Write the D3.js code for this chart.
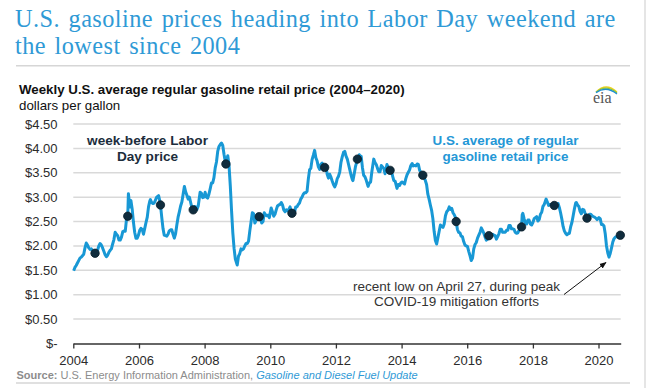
<!DOCTYPE html>
<html>
<head>
<meta charset="utf-8">
<script src="https://cdn.jsdelivr.net/npm/d3@7/dist/d3.min.js"></script>
<style>
  html, body { margin: 0; padding: 0; background: #fff; }
  svg { display: block; }
</style>
</head>
<body>
<svg id="chart" width="651" height="388"></svg>
<script>
// ---- data ----
const weekDates = [
"2004-01-05","2004-01-19","2004-02-02","2004-02-16","2004-03-01","2004-03-15","2004-03-29","2004-04-12","2004-04-26","2004-05-10","2004-05-24","2004-06-07","2004-06-21","2004-07-05","2004-07-19","2004-08-02","2004-08-16","2004-08-30","2004-09-13","2004-09-27","2004-10-11","2004-10-25","2004-11-08","2004-11-22","2004-12-06","2004-12-20",
"2005-01-03","2005-01-17","2005-01-31","2005-02-14","2005-02-28","2005-03-14","2005-03-28","2005-04-11","2005-04-25","2005-05-09","2005-05-23","2005-06-06","2005-06-20","2005-07-04","2005-07-18","2005-08-01","2005-08-15","2005-08-29","2005-09-05","2005-09-12","2005-09-26","2005-10-03","2005-10-17","2005-10-31","2005-11-14","2005-11-28","2005-12-12","2005-12-26",
"2006-01-09","2006-01-23","2006-02-06","2006-02-20","2006-03-06","2006-03-20","2006-04-03","2006-04-17","2006-05-01","2006-05-08","2006-05-22","2006-06-05","2006-06-19","2006-07-03","2006-07-17","2006-08-07","2006-08-21","2006-08-28","2006-09-11","2006-09-25","2006-10-09","2006-10-23","2006-11-06","2006-11-20","2006-12-04","2006-12-18",
"2007-01-01","2007-01-15","2007-01-29","2007-02-12","2007-02-26","2007-03-12","2007-03-26","2007-04-09","2007-04-23","2007-05-07","2007-05-21","2007-06-04","2007-06-18","2007-07-02","2007-07-16","2007-07-30","2007-08-13","2007-08-27","2007-09-10","2007-09-24","2007-10-08","2007-10-22","2007-11-12","2007-11-26","2007-12-10","2007-12-24",
"2008-01-07","2008-01-21","2008-02-04","2008-02-18","2008-03-03","2008-03-17","2008-03-31","2008-04-14","2008-04-28","2008-05-12","2008-05-26","2008-06-09","2008-06-23","2008-07-07","2008-07-21","2008-08-04","2008-08-18","2008-08-25","2008-09-15","2008-09-29","2008-10-13","2008-10-27","2008-11-10","2008-11-24","2008-12-08","2008-12-29",
"2009-01-12","2009-01-26","2009-02-09","2009-02-23","2009-03-09","2009-03-23","2009-04-06","2009-04-20","2009-05-04","2009-05-18","2009-06-01","2009-06-15","2009-06-29","2009-07-13","2009-07-27","2009-08-10","2009-08-24","2009-08-31","2009-09-14","2009-09-28","2009-10-12","2009-10-26","2009-11-09","2009-11-23","2009-12-07","2009-12-21",
"2010-01-11","2010-01-25","2010-02-08","2010-02-22","2010-03-08","2010-03-22","2010-04-05","2010-04-19","2010-05-03","2010-05-17","2010-05-31","2010-06-14","2010-06-28","2010-07-12","2010-07-26","2010-08-09","2010-08-23","2010-08-30","2010-09-13","2010-09-27","2010-10-11","2010-10-25","2010-11-08","2010-11-22","2010-12-06","2010-12-20",
"2011-01-03","2011-01-17","2011-01-31","2011-02-14","2011-02-28","2011-03-14","2011-03-28","2011-04-11","2011-04-25","2011-05-09","2011-05-23","2011-06-06","2011-06-20","2011-07-04","2011-07-18","2011-08-01","2011-08-15","2011-08-29","2011-09-12","2011-09-26","2011-10-10","2011-10-24","2011-11-07","2011-11-21","2011-12-05","2011-12-19",
"2012-01-02","2012-01-16","2012-01-30","2012-02-13","2012-02-27","2012-03-12","2012-03-26","2012-04-09","2012-04-23","2012-05-07","2012-05-21","2012-06-04","2012-06-18","2012-07-02","2012-07-09","2012-07-23","2012-08-06","2012-08-20","2012-08-27","2012-09-17","2012-10-01","2012-10-08","2012-10-22","2012-11-05","2012-11-19","2012-12-03","2012-12-24",
"2013-01-07","2013-01-21","2013-02-04","2013-02-25","2013-03-11","2013-03-25","2013-04-08","2013-04-22","2013-05-06","2013-05-20","2013-06-03","2013-06-17","2013-07-01","2013-07-22","2013-08-05","2013-08-19","2013-08-26","2013-09-09","2013-09-23","2013-10-07","2013-10-21","2013-11-11","2013-11-25","2013-12-09","2013-12-23",
"2014-01-06","2014-01-20","2014-02-03","2014-02-17","2014-03-03","2014-03-17","2014-03-31","2014-04-14","2014-04-28","2014-05-12","2014-05-26","2014-06-09","2014-06-23","2014-07-07","2014-07-21","2014-08-04","2014-08-18","2014-08-25","2014-09-08","2014-09-22","2014-10-06","2014-10-20","2014-11-03","2014-11-17","2014-12-01","2014-12-15","2014-12-29",
"2015-01-12","2015-01-26","2015-02-09","2015-02-23","2015-03-09","2015-03-23","2015-04-06","2015-04-20","2015-05-04","2015-05-18","2015-06-01","2015-06-15","2015-06-29","2015-07-13","2015-07-27","2015-08-10","2015-08-24","2015-08-31","2015-09-14","2015-09-28","2015-10-12","2015-10-26","2015-11-09","2015-11-23","2015-12-07","2015-12-21",
"2016-01-04","2016-01-18","2016-02-01","2016-02-15","2016-02-29","2016-03-14","2016-03-28","2016-04-11","2016-04-25","2016-05-09","2016-05-23","2016-06-06","2016-06-20","2016-07-04","2016-07-18","2016-08-01","2016-08-15","2016-08-29","2016-09-12","2016-09-26","2016-10-10","2016-10-24","2016-11-07","2016-11-21","2016-12-05","2016-12-19",
"2017-01-02","2017-01-16","2017-01-30","2017-02-13","2017-02-27","2017-03-13","2017-03-27","2017-04-10","2017-04-24","2017-05-08","2017-05-22","2017-06-05","2017-06-19","2017-07-03","2017-07-17","2017-07-31","2017-08-14","2017-08-28","2017-09-04","2017-09-11","2017-09-25","2017-10-09","2017-10-23","2017-11-06","2017-11-20","2017-12-04","2017-12-18",
"2018-01-01","2018-01-15","2018-01-29","2018-02-12","2018-02-26","2018-03-12","2018-03-26","2018-04-09","2018-04-23","2018-05-07","2018-05-28","2018-06-11","2018-06-25","2018-07-09","2018-07-23","2018-08-06","2018-08-20","2018-08-27","2018-09-10","2018-09-24","2018-10-08","2018-10-22","2018-11-05","2018-11-19","2018-12-03","2018-12-17","2018-12-31",
"2019-01-14","2019-01-28","2019-02-11","2019-02-25","2019-03-11","2019-03-25","2019-04-08","2019-04-22","2019-04-29","2019-05-13","2019-05-27","2019-06-10","2019-06-24","2019-07-08","2019-07-22","2019-08-05","2019-08-19","2019-08-26","2019-09-09","2019-09-23","2019-10-07","2019-10-21","2019-11-04","2019-11-18","2019-12-02","2019-12-16",
"2020-01-06","2020-01-20","2020-02-03","2020-02-17","2020-03-02","2020-03-16","2020-03-30","2020-04-13","2020-04-27","2020-05-11","2020-05-25","2020-06-08","2020-06-22","2020-07-06","2020-07-20","2020-08-03","2020-08-17","2020-08-31"
];
const weekPrices = [
1.49,1.56,1.60,1.65,1.70,1.75,1.77,1.80,1.83,1.96,2.06,2.02,1.96,1.93,1.94,1.90,1.87,1.85,1.86,1.91,2.00,2.05,2.02,1.96,1.89,1.82,
1.78,1.81,1.87,1.91,1.94,2.04,2.13,2.28,2.24,2.21,2.12,2.12,2.18,2.29,2.31,2.30,2.55,2.61,3.07,2.96,2.80,2.93,2.76,2.49,2.28,2.16,2.16,2.22,
2.32,2.36,2.34,2.24,2.36,2.48,2.59,2.80,2.92,2.95,2.89,2.87,2.88,2.94,3.00,3.03,2.92,2.84,2.59,2.36,2.22,2.21,2.20,2.24,2.31,2.33,
2.33,2.24,2.16,2.25,2.43,2.59,2.70,2.82,2.90,3.06,3.22,3.11,3.04,2.96,3.00,2.89,2.78,2.74,2.81,2.80,2.75,2.82,3.10,3.08,2.99,3.00,
3.10,3.00,2.98,3.06,3.17,3.29,3.29,3.40,3.60,3.72,3.94,4.04,4.08,4.11,4.06,3.88,3.73,3.68,3.85,3.64,3.23,2.72,2.27,1.95,1.73,1.61,
1.79,1.84,1.94,1.92,1.94,2.00,2.05,2.05,2.10,2.31,2.49,2.68,2.66,2.47,2.52,2.65,2.62,2.60,2.57,2.47,2.50,2.68,2.64,2.62,2.63,2.58,
2.78,2.70,2.61,2.65,2.74,2.82,2.84,2.85,2.89,2.84,2.74,2.70,2.74,2.72,2.75,2.80,2.70,2.67,2.70,2.69,2.80,2.80,2.85,2.88,2.96,3.00,
3.06,3.09,3.09,3.12,3.37,3.56,3.59,3.77,3.86,3.96,3.81,3.74,3.62,3.57,3.67,3.70,3.59,3.61,3.65,3.47,3.39,3.47,3.41,3.33,3.26,3.21,
3.27,3.38,3.43,3.52,3.72,3.83,3.92,3.94,3.84,3.78,3.67,3.56,3.45,3.36,3.34,3.48,3.63,3.72,3.78,3.87,3.78,3.84,3.61,3.45,3.42,3.35,3.22,
3.29,3.31,3.52,3.78,3.71,3.67,3.59,3.52,3.52,3.65,3.62,3.59,3.48,3.67,3.61,3.54,3.55,3.57,3.43,3.34,3.33,3.18,3.26,3.24,3.29,
3.31,3.29,3.27,3.38,3.46,3.51,3.56,3.65,3.69,3.64,3.65,3.64,3.68,3.67,3.55,3.51,3.44,3.45,3.42,3.34,3.26,3.06,2.96,2.84,2.73,2.56,2.30,
2.11,2.04,2.17,2.30,2.43,2.40,2.38,2.45,2.62,2.70,2.73,2.80,2.75,2.77,2.68,2.64,2.58,2.50,2.34,2.28,2.27,2.20,2.19,2.09,2.02,2.00,
1.99,1.89,1.80,1.70,1.75,1.94,2.03,2.07,2.16,2.22,2.28,2.37,2.32,2.26,2.18,2.12,2.14,2.21,2.18,2.21,2.24,2.22,2.21,2.14,2.19,2.25,
2.34,2.34,2.28,2.28,2.28,2.32,2.32,2.42,2.42,2.35,2.35,2.34,2.28,2.26,2.27,2.32,2.37,2.39,2.64,2.67,2.56,2.47,2.45,2.53,2.53,2.45,2.43,
2.48,2.56,2.58,2.60,2.51,2.54,2.65,2.69,2.81,2.85,2.96,2.90,2.83,2.85,2.85,2.85,2.83,2.83,2.84,2.84,2.87,2.79,2.68,2.55,2.40,2.31,2.26,
2.23,2.25,2.26,2.39,2.48,2.62,2.76,2.88,2.89,2.84,2.81,2.71,2.66,2.75,2.74,2.67,2.61,2.57,2.56,2.65,2.65,2.62,2.60,2.59,2.57,2.54,
2.58,2.56,2.44,2.44,2.41,2.25,2.00,1.86,1.77,1.85,1.96,2.08,2.15,2.18,2.19,2.18,2.17,2.22
];
const laborDates = ["2004-08-30","2005-08-29","2006-08-28","2007-08-27","2008-08-25","2009-08-31","2010-08-30","2011-08-29","2012-08-27","2013-08-26","2014-08-25","2015-08-31","2016-08-29","2017-08-28","2018-08-27","2019-08-26","2020-08-31"];
const laborPrices = [1.85,2.61,2.84,2.74,3.68,2.60,2.67,3.61,3.78,3.55,3.45,2.50,2.21,2.39,2.83,2.57,2.22];
const yTicks = [0,0.5,1,1.5,2,2.5,3,3.5,4,4.5];
const xTickYears = [2004,2006,2008,2010,2012,2014,2016,2018,2020];

// ---- drawing ----
const parse = d3.timeParse("%Y-%m-%d");
const series = weekDates.map((d,i) => ({date: parse(d), value: weekPrices[i]}));
const dots = laborDates.map((d,i) => ({date: parse(d), value: laborPrices[i]}));

const svg = d3.select("#chart");
const sans = "'Liberation Sans', Arial, sans-serif";

const x = d3.scaleTime().domain([new Date(2004,0,1), new Date(2020,8,4)]).range([73.3, 620.7]);
const y = d3.scaleLinear().domain([0, 4.5]).range([343.5, 124]);

// frame lines
svg.append("line").attr("x1",645).attr("x2",645).attr("y1",0).attr("y2",388).attr("stroke","#dcdcdc").attr("stroke-width",1.5);
svg.append("line").attr("x1",16).attr("x2",630).attr("y1",65.7).attr("y2",65.7).attr("stroke","#d6d6d6").attr("stroke-width",1.5);
svg.append("line").attr("x1",16).attr("x2",630).attr("y1",383).attr("y2",383).attr("stroke","#d6d6d6").attr("stroke-width",1.5);

// title
const title = svg.append("text").attr("font-family","'Liberation Serif','Times New Roman',serif")
  .attr("font-size",24.3).attr("letter-spacing",0.45).attr("word-spacing",2).attr("fill","#2f9ad6");
title.append("tspan").attr("x",15).attr("y",26.8).text("U.S. gasoline prices heading into Labor Day weekend are");
title.append("tspan").attr("x",15).attr("y",53.8).text("the lowest since 2004");

svg.append("text").attr("x",19).attr("y",94).attr("font-family",sans).attr("font-size",13.3).attr("font-weight","bold").attr("fill","#111")
  .text("Weekly U.S. average regular gasoline retail price (2004\u20132020)");
svg.append("text").attr("x",19).attr("y",110).attr("font-family",sans).attr("font-size",13.3).attr("fill","#111")
  .text("dollars per gallon");

// eia logo
const logo = svg.append("g");
[["#f2d21b",0],["#8cc63f",1.6],["#1f8fd0",3.2]].forEach(([c,o]) => {
  logo.append("path").attr("d",`M ${596} ${92+o*0.2} Q ${606} ${82+o} ${617} ${92+o*0.6}`)
    .attr("fill","none").attr("stroke",c).attr("stroke-width",1.3);
});
logo.append("text").attr("x",593).attr("y",103).attr("font-family","'Liberation Serif',serif").attr("font-size",16).attr("fill","#555").text("eia");

// gridlines
svg.append("g").selectAll("line").data(yTicks.filter(d => d > 0)).join("line")
  .attr("x1",73.3).attr("x2",620.7).attr("y1",d => y(d)).attr("y2",d => y(d))
  .attr("stroke","#d9d9d9").attr("stroke-width",1.5);

// y labels
svg.append("g").selectAll("text").data(yTicks).join("text")
  .attr("x",57.5).attr("y",d => y(d)+4.5).attr("text-anchor","end")
  .attr("font-family",sans).attr("font-size",13).attr("fill","#2b2b2b")
  .text(d => d === 0 ? "$-" : "$" + d3.format(".2f")(d));

// x axis
const xAxis = d3.axisBottom(x)
  .tickValues(xTickYears.map(yr => new Date(yr,0,1)))
  .tickFormat(d3.timeFormat("%Y"))
  .tickSize(5).tickSizeOuter(0);
const gx = svg.append("g").attr("transform","translate(0,343.5)").call(xAxis);
gx.select(".domain").attr("stroke","#333").attr("stroke-width",1.5);
gx.selectAll(".tick line").attr("stroke","#333").attr("stroke-width",1.3);
gx.selectAll(".tick text").attr("font-family",sans).attr("font-size",13).attr("fill","#2b2b2b").attr("dy","1.05em");

// line
const line = d3.line().x(d => x(d.date)).y(d => y(d.value)).curve(d3.curveLinear);
svg.append("path").datum(series).attr("d",line).attr("fill","none")
  .attr("stroke","#1898d5").attr("stroke-width",3).attr("stroke-linejoin","round");

// dots
svg.append("g").selectAll("circle").data(dots).join("circle")
  .attr("cx",d => x(d.date)).attr("cy",d => y(d.value)).attr("r",4.2)
  .attr("fill","#102c3d").attr("stroke","#0a1e2a").attr("stroke-width",0.8);

// annotations
const a1 = svg.append("text").attr("font-family",sans).attr("font-size",13.6).attr("font-weight","bold").attr("fill","#1c2d3c").attr("text-anchor","middle");
a1.append("tspan").attr("x",147.5).attr("y",145).text("week-before Labor");
a1.append("tspan").attr("x",147.5).attr("y",161).text("Day price");

const a2 = svg.append("text").attr("font-family",sans).attr("font-size",13.4).attr("font-weight","bold").attr("fill","#2497d6").attr("text-anchor","middle");
a2.append("tspan").attr("x",505.5).attr("y",145).text("U.S. average of regular");
a2.append("tspan").attr("x",505.5).attr("y",161).text("gasoline retail price");

const a3 = svg.append("text").attr("font-family",sans).attr("font-size",13.5).attr("fill","#333").attr("text-anchor","middle");
a3.append("tspan").attr("x",456.5).attr("y",291).text("recent low on April 27, during peak");
a3.append("tspan").attr("x",456.5).attr("y",306).text("COVID-19 mitigation efforts");

svg.append("defs").append("marker").attr("id","arr").attr("viewBox","0 0 10 10").attr("refX",9).attr("refY",5)
  .attr("markerWidth",7).attr("markerHeight",7).attr("orient","auto")
  .append("path").attr("d","M0,1 L10,5 L0,9 Z").attr("fill","#111");
svg.append("line").attr("x1",564).attr("y1",294.5).attr("x2",606).attr("y2",262.5)
  .attr("stroke","#111").attr("stroke-width",1).attr("marker-end","url(#arr)");

// source
const src = svg.append("text").attr("x",16.5).attr("y",379).attr("font-family",sans).attr("font-size",11).attr("fill","#8c8c8c");
src.append("tspan").attr("font-weight","bold").text("Source:");
src.append("tspan").text(" U.S. Energy Information Administration, ");
src.append("tspan").attr("font-style","italic").attr("fill","#2f9ad6").text("Gasoline and Diesel Fuel Update");
</script>
</body>
</html>
